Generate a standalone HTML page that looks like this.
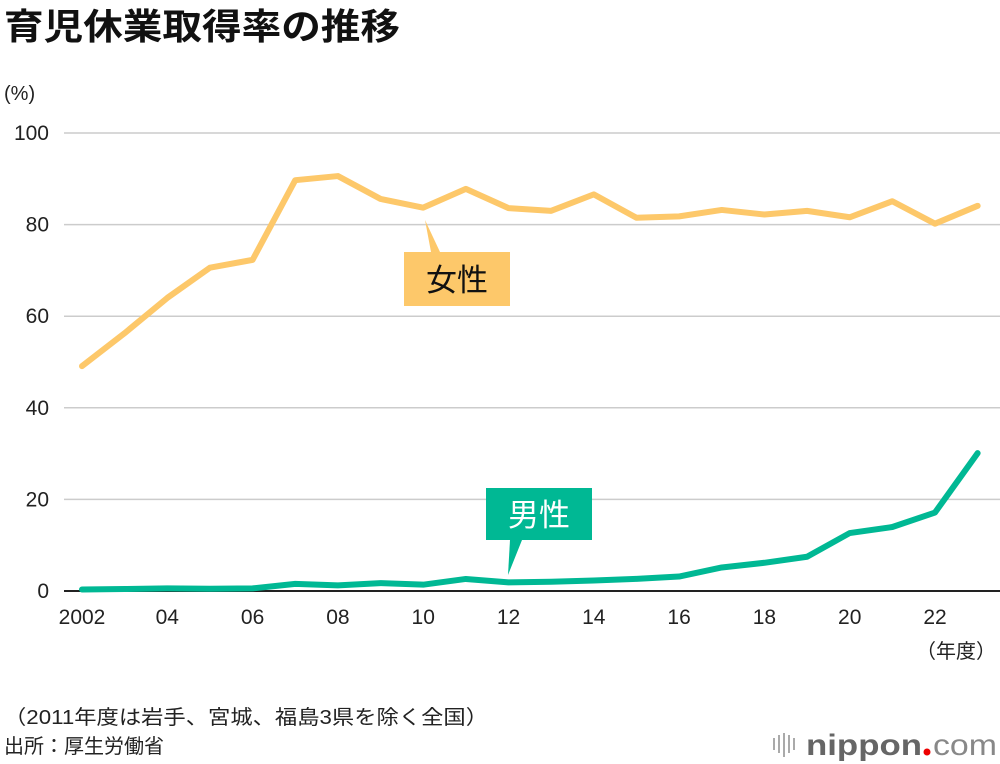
<!DOCTYPE html>
<html><head><meta charset="utf-8"><style>
body{margin:0;background:#fff;}
svg{display:block;font-family:"Liberation Sans","Noto Sans CJK JP",sans-serif;}
</style></head><body>
<svg id="c" width="1000" height="764" viewBox="0 0 1000 764">
<text x="4" y="39" font-size="36" font-weight="bold" fill="#111" textLength="396" lengthAdjust="spacingAndGlyphs">育児休業取得率の推移</text>
<text x="4" y="100" font-size="20" fill="#222">(%)</text>
<g id="grid"></g><g id="ticks"></g><g id="series"></g>
<g>
<path d="M425 220 L431 252 L440 252 Z" fill="#fdc86a"/>
<rect x="404" y="252" width="106" height="54" fill="#fdc86a"/>
<text x="457" y="291" font-size="31" text-anchor="middle" fill="#111">女性</text>
</g>
<g>
<rect x="486" y="488" width="106" height="52" fill="#00b894"/>
<path d="M510 540 L508 575 L522 540 Z" fill="#00b894"/>
<text x="539" y="526" font-size="31" text-anchor="middle" fill="#fff">男性</text>
</g>
<text x="996" y="658" font-size="20" text-anchor="end" fill="#222">（年度）</text>
<text x="4" y="724" font-size="20" fill="#222" textLength="484" lengthAdjust="spacingAndGlyphs">（2011年度は岩手、宮城、福島3県を除く全国）</text>
<text x="4" y="753" font-size="20" fill="#222">出所：厚生労働省</text>
<g>
<g stroke="#aaa" stroke-width="2"><line x1="774" y1="738" x2="774" y2="750"/><line x1="779" y1="735" x2="779" y2="753"/><line x1="784" y1="733" x2="784" y2="757"/><line x1="789" y1="735" x2="789" y2="753"/><line x1="794" y1="738" x2="794" y2="750"/></g>
<text x="806" y="755" font-size="30" font-weight="bold" fill="#666" textLength="116" lengthAdjust="spacingAndGlyphs">nippon</text>
<circle cx="927" cy="752" r="3.5" fill="#e00"/>
<text x="933" y="755" font-size="30" fill="#888" textLength="64" lengthAdjust="spacingAndGlyphs">com</text>
</g>
</svg>
<script>
const years=[2002,2003,2004,2005,2006,2007,2008,2009,2010,2011,2012,2013,2014,2015,2016,2017,2018,2019,2020,2021,2022,2023];
const female=[49.1,56.3,64.0,70.6,72.3,89.7,90.6,85.6,83.7,87.8,83.6,83.0,86.6,81.5,81.8,83.2,82.2,83.0,81.6,85.1,80.2,84.1];
const male=[0.33,0.44,0.56,0.50,0.57,1.56,1.23,1.72,1.38,2.63,1.89,2.03,2.30,2.65,3.16,5.14,6.16,7.48,12.65,13.97,17.13,30.1];
const yTicks=[0,20,40,60,80,100];
const xTickYears=[2002,2004,2006,2008,2010,2012,2014,2016,2018,2020,2022];
const xTickLabels=["2002","04","06","08","10","12","14","16","18","20","22"];
const NS="http://www.w3.org/2000/svg";
const x=v=>82+(v-2002)*42.65, y=v=>591-v*4.58;
function mk(t,a,p){const e=document.createElementNS(NS,t);for(const k in a)e.setAttribute(k,a[k]);p.appendChild(e);return e;}
const grid=document.getElementById('grid'),ticks=document.getElementById('ticks'),ser=document.getElementById('series');
yTicks.forEach(v=>{
 const l=mk('line',{x1:64,x2:1000,y1:y(v),y2:y(v),stroke:v===0?'#222':'#ccc','stroke-width':v===0?2:1.5},grid);
 
 
 const t=mk('text',{x:49,y:y(v)+7,'font-size':21,'text-anchor':'end',fill:'#222'},ticks);t.textContent=v;
 
 
});
xTickYears.forEach((v,i)=>{
 const t=mk('text',{x:x(v),y:624,'font-size':21,'text-anchor':'middle',fill:'#222'},ticks);t.textContent=xTickLabels[i];
 
 
});
function line(d,c,n){const p=mk('polyline',{points:d.map((v,i)=>x(years[i])+','+y(v)).join(' '),fill:'none',stroke:c,'stroke-width':6,'stroke-linejoin':'round','stroke-linecap':'round'},ser);
 
 }
line(female,'#fdc86a','female-line');
line(male,'#00b894','male-line');
</script>
</body></html>
